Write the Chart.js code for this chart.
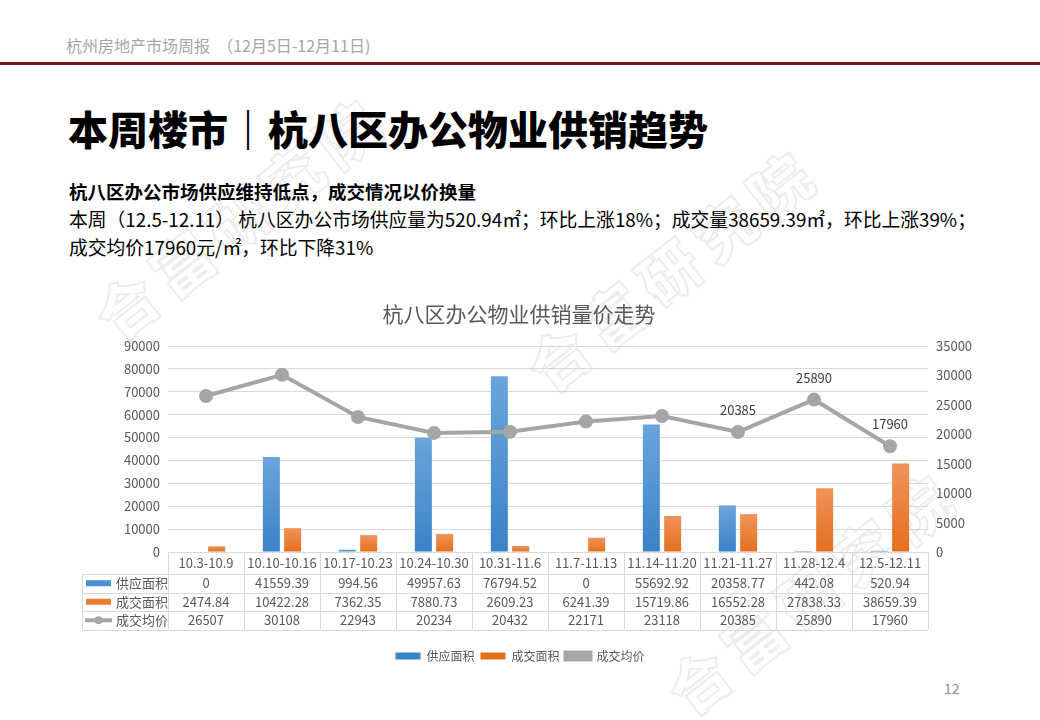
<!DOCTYPE html>
<html>
<head>
<meta charset="utf-8">
<script src="https://cdn.jsdelivr.net/npm/chart.js@4"></script>
<style>
  body { margin: 0; width: 1040px; height: 720px; background: #fff; position: relative; overflow: hidden;
    font-family: "Noto Sans CJK SC", "Noto Sans", sans-serif; }
  .hdr { position: absolute; left: 66px; top: 33px; font-size: 16px; color: #a6a6a6; white-space: nowrap; }
  .rule { position: absolute; left: 0; top: 62px; width: 1040px; height: 3px; background: #7b1113; }
  h1 { position: absolute; left: 68px; top: 104px; margin: 0; font-size: 40px; font-weight: 900; color: #000; line-height: 48px; }
  .sub { position: absolute; left: 69px; top: 178px; font-size: 18.5px; font-weight: 700; color: #000; }
  .txt { position: absolute; left: 69px; top: 205px; font-size: 18.8px; line-height: 28px; color: #000; width: 960px; white-space: nowrap; }
  .wm { position: absolute; font-size: 60px; font-weight: 900; color: transparent; -webkit-text-stroke: 2px #ededed;
    transform-origin: left bottom; transform: rotate(-38deg); letter-spacing: 10px; white-space: nowrap; }
  .page { position: absolute; left: 944px; top: 678px; font-size: 14px; color: #8c8c8c; }
  #wrap { position: absolute; left: 0; top: 290px; width: 1040px; height: 390px; }
</style>
</head>
<body>
<div class="wm" style="left:128px; top:270px;">合富研究院</div>
<div class="wm" style="left:560px; top:322px;">合富研究院</div>
<div class="wm" style="left:700px; top:645px;">合富研究院</div>

<div class="hdr">杭州房地产市场周报 &nbsp;（12月5日-12月11日)</div>
<div class="rule"></div>
<h1>本周楼市｜杭八区办公物业供销趋势</h1>
<div class="sub">杭八区办公市场供应维持低点，成交情况以价换量</div>
<div class="txt">本周（12.5-12.11） 杭八区办公市场供应量为520.94㎡；环比上涨18%；成交量38659.39㎡，环比上涨39%；<br>成交均价17960元/㎡，环比下降31%</div>
<div class="page">12</div>

<div id="wrap"><canvas id="chart"></canvas></div>

<script>
const weeks = ['10.3-10.9', '10.10-10.16', '10.17-10.23', '10.24-10.30', '10.31-11.6', '11.7-11.13', '11.14-11.20', '11.21-11.27', '11.28-12.4', '12.5-12.11']
const supplyArea = [0, 41559.39, 994.56, 49957.63, 76794.52, 0, 55692.92, 20358.77, 442.08, 520.94]
const dealArea = [2474.84, 10422.28, 7362.35, 7880.73, 2609.23, 6241.39, 15719.86, 16552.28, 27838.33, 38659.39]
const avgPrice = [26507, 30108, 22943, 20234, 20432, 22171, 23118, 20385, 25890, 17960]
const labeledPoints = [7, 8, 9]
const chartTitle = '杭八区办公物业供销量价走势'

const font = '"Noto Sans CJK SC", "Noto Sans", sans-serif'
const textGray = '#595959'
const gridGray = '#d9d9d9'

// excel-like vertical gradient on every bar
function barGradient(top, bottom) {
  return (c) => {
    const chart = c.chart
    if (!chart.chartArea || c.raw == null) return bottom
    const y = chart.scales.y
    const y0 = y.getPixelForValue(0)
    const y1 = y.getPixelForValue(c.raw)
    if (Math.abs(y0 - y1) < 1) return bottom
    const g = chart.ctx.createLinearGradient(0, y1, 0, y0)
    g.addColorStop(0, top)
    g.addColorStop(1, bottom)
    return g
  }
}

// title centred on the slide, not on the plot
const slideTitle = {
  id: 'slideTitle',
  afterDraw(chart) {
    const ctx = chart.ctx
    ctx.save()
    ctx.font = '21px ' + font
    ctx.fillStyle = textGray
    ctx.textAlign = 'center'
    ctx.textBaseline = 'middle'
    ctx.fillText(chartTitle, 519, 24)
    ctx.restore()
  }
}

// data table under the x axis
const dataTable = {
  id: 'dataTable',
  afterDraw(chart) {
    const { ctx, chartArea } = chart
    const x = chart.scales.x
    const left = chartArea.left
    const right = chartArea.right
    const top = chartArea.bottom
    const colW = (right - left) / weeks.length
    const labelLeft = left - 86
    const hdrH = 22
    const rowH = 18.5
    const bottom = top + hdrH + rowH * 3
    const rows = [
      { name: '供应面积', values: supplyArea, color: '#4a8fd4', kind: 'bar' },
      { name: '成交面积', values: dealArea, color: '#ed7d31', kind: 'bar' },
      { name: '成交均价', values: avgPrice, color: '#a5a5a5', kind: 'line' },
    ]

    ctx.save()
    ctx.strokeStyle = gridGray
    ctx.lineWidth = 1
    ctx.beginPath()
    for (let k = 0; k <= weeks.length; k++) {
      const px = Math.round(left + k * colW) + 0.5
      ctx.moveTo(px, top)
      ctx.lineTo(px, bottom)
    }
    ctx.moveTo(labelLeft + 0.5, top + hdrH)
    ctx.lineTo(labelLeft + 0.5, bottom)
    for (let r = 0; r <= 3; r++) {
      const py = Math.round(top + hdrH + r * rowH) + 0.5
      ctx.moveTo(labelLeft, py)
      ctx.lineTo(right, py)
    }
    ctx.stroke()

    ctx.font = '13px ' + font
    ctx.fillStyle = textGray
    ctx.textAlign = 'center'
    ctx.textBaseline = 'middle'
    weeks.forEach((w, i) => {
      ctx.fillText(w, x.getPixelForValue(i), top + hdrH / 2)
    })

    rows.forEach((row, r) => {
      const cy = top + hdrH + r * rowH + rowH / 2
      if (row.kind === 'bar') {
        ctx.fillStyle = row.color
        ctx.fillRect(labelLeft + 4, cy - 3, 25, 6)
      } else {
        ctx.strokeStyle = row.color
        ctx.lineWidth = 4
        ctx.beginPath()
        ctx.moveTo(labelLeft + 3, cy)
        ctx.lineTo(labelLeft + 30, cy)
        ctx.stroke()
        ctx.fillStyle = row.color
        ctx.beginPath()
        ctx.arc(labelLeft + 16.5, cy, 4, 0, Math.PI * 2)
        ctx.fill()
      }
      ctx.fillStyle = textGray
      ctx.textAlign = 'left'
      ctx.fillText(row.name, labelLeft + 34, cy)
      ctx.textAlign = 'center'
      row.values.forEach((v, i) => {
        ctx.fillText(String(v), x.getPixelForValue(i), cy)
      })
    })
    ctx.restore()
  }
}

// value labels on the last price points
const pointLabels = {
  id: 'pointLabels',
  afterDatasetsDraw(chart) {
    const meta = chart.getDatasetMeta(2)
    const ctx = chart.ctx
    ctx.save()
    ctx.font = '13px ' + font
    ctx.fillStyle = '#404040'
    ctx.textAlign = 'center'
    ctx.textBaseline = 'middle'
    labeledPoints.forEach((i) => {
      const pt = meta.data[i]
      ctx.fillText(String(avgPrice[i]), pt.x, pt.y - 22)
    })
    ctx.restore()
  }
}

const plain = (v) => String(v)

new Chart(document.getElementById('chart'), {
  data: {
    labels: weeks,
    datasets: [
      {
        type: 'bar',
        label: '供应面积',
        data: supplyArea,
        yAxisID: 'y',
        order: 1,
        backgroundColor: barGradient('#6aa5dc', '#3a83c7'),
        categoryPercentage: 0.56,
        barPercentage: 0.8,
      },
      {
        type: 'bar',
        label: '成交面积',
        data: dealArea,
        yAxisID: 'y',
        order: 1,
        backgroundColor: barGradient('#f0935a', '#e4701c'),
        categoryPercentage: 0.56,
        barPercentage: 0.8,
      },
      {
        type: 'line',
        label: '成交均价',
        data: avgPrice,
        yAxisID: 'y1',
        order: 0,
        borderColor: '#a5a5a5',
        backgroundColor: '#a5a5a5',
        borderWidth: 4,
        pointRadius: 5,
        pointBackgroundColor: '#a5a5a5',
        pointBorderColor: '#a5a5a5',
        tension: 0,
      },
    ],
  },
  options: {
    responsive: true,
    maintainAspectRatio: false,
    animation: false,
    layout: { padding: { left: 0, right: 0, top: 56, bottom: 8 } },
    plugins: {
      title: { display: false },
      legend: {
        position: 'bottom',
        labels: {
          sort: (a, b) => a.datasetIndex - b.datasetIndex,
          color: textGray,
          font: { family: font, size: 12 },
          boxWidth: 25,
          boxHeight: 7,
          padding: 6,
        },
      },
      tooltip: { enabled: false },
    },
    scales: {
      x: {
        grid: { display: false },
        border: { display: true, color: gridGray },
        ticks: { display: false },
        afterFit: (s) => { s.height = 92 },
      },
      y: {
        position: 'left',
        min: 0,
        max: 90000,
        ticks: { stepSize: 10000, callback: plain, color: textGray, font: { family: font, size: 13 }, padding: 8 },
        grid: { color: gridGray, drawTicks: false },
        border: { display: false },
        afterFit: (s) => { s.width = 168 },
      },
      y1: {
        position: 'right',
        min: 0,
        max: 35000,
        ticks: { stepSize: 5000, callback: plain, color: textGray, font: { family: font, size: 13 }, padding: 8 },
        grid: { drawOnChartArea: false, drawTicks: false },
        border: { display: false },
        afterFit: (s) => { s.width = 112 },
      },
    },
  },
  plugins: [slideTitle, dataTable, pointLabels],
})
</script>
</body>
</html>
